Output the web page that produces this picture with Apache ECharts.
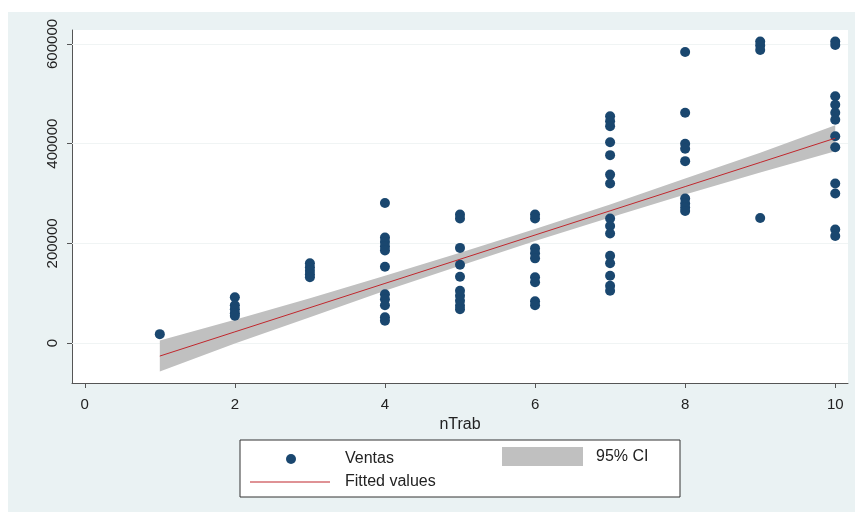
<!DOCTYPE html>
<html>
<head>
<meta charset="utf-8">
<script src="https://cdn.jsdelivr.net/npm/echarts@6/dist/echarts.min.js"></script>
<style>
html, body { margin: 0; padding: 0; background: #fff; }
#chart { width: 859px; height: 516px; }
</style>
</head>
<body>
<div id="chart"></div>
<script>
// nTrab (x) and the Ventas values seen at each nTrab
var nTrab = [1, 2, 3, 4, 5, 6, 7, 8, 9, 10];
var ventas = [
	[18000],
	[92000, 76000, 68000, 60000, 55000],
	[160000, 152000, 145000, 138000, 132000],
	[281000, 212000, 203000, 194000, 186000, 153000, 98000, 88000, 76000, 52000, 45000],
	[258000, 250000, 191000, 157000, 133000, 105000, 95000, 85000, 75000, 68000],
	[258000, 250000, 190000, 180000, 170000, 132000, 122000, 84000, 76000],
	[455000, 445000, 435000, 403000, 377000, 338000, 320000, 250000, 235000, 220000, 175000, 160000, 135000, 115000, 105000],
	[584000, 462000, 400000, 390000, 365000, 290000, 280000, 272000, 265000],
	[605000, 597000, 588000, 251000],
	[605000, 598000, 495000, 478000, 462000, 448000, 415000, 393000, 320000, 300000, 228000, 215000]
];
// fitted line and 95% CI
var fitted = [-26000, 22600, 71100, 119700, 168200, 216800, 265300, 313900, 362400, 411000];
var ciLower = [-57000, -1000, 52000, 105000, 155000, 205000, 252000, 298000, 342000, 385000];
var ciUpper = [5000, 47000, 90000, 135000, 181000, 229000, 278000, 330000, 382000, 437000];

var xTicks = [0, 2, 4, 6, 8, 10];
var yTicks = [0, 200000, 400000, 600000];

var pts = [];
ventas.forEach(function(list, i) {
	list.forEach(function(v) {
		pts.push([nTrab[i], v]);
	});
});
var fitData = nTrab.map(function(x, i) { return [x, fitted[i]]; });
var bandData = nTrab.map(function(x, i) { return [x, ciLower[i], ciUpper[i]]; });

var font = 'Liberation Sans';
var txt = { fontFamily: font, fontSize: 16, color: '#222' };
var chart = echarts.init(document.getElementById('chart'));

function plain(v) { return String(v); }

chart.setOption({
	animation: false,
	graphic: [{
		type: 'rect',
		z: -10,
		shape: { x: 8, y: 12, width: 847, height: 500 },
		style: { fill: '#eaf2f3' }
	}, {
		type: 'rect',
		z: 5,
		shape: { x: 240, y: 440, width: 440, height: 57 },
		style: { fill: '#fff', stroke: '#333', lineWidth: 1 }
	}],
	grid: {
		left: 72,
		top: 30,
		width: 776,
		height: 353,
		show: true,
		backgroundColor: '#fff',
		borderWidth: 0
	},
	legend: [{
		z: 10,
		padding: 0,
		left: 286,
		top: 451,
		itemWidth: 80,
		itemHeight: 10,
		data: ['Ventas'],
		textStyle: Object.assign({ padding: [0, 0, 0, 9] }, txt)
	}, {
		z: 10,
		padding: 0,
		left: 250,
		top: 474,
		itemWidth: 80,
		itemHeight: 1,
		data: [{ name: 'Fitted values', icon: 'rect' }],
		textStyle: Object.assign({ padding: [0, 0, 0, 10] }, txt)
	}, {
		z: 10,
		padding: 0,
		left: 502,
		top: 447,
		itemWidth: 81,
		itemHeight: 19,
		data: [{ name: '95% CI', icon: 'rect' }],
		textStyle: Object.assign({ padding: [0, 0, 0, 8] }, txt)
	}],
	xAxis: {
		type: 'value',
		min: -0.17,
		max: 10.17,
		name: 'nTrab',
		nameLocation: 'middle',
		nameGap: 29,
		nameTextStyle: txt,
		axisLine: { show: true, onZero: false, lineStyle: { color: '#555', width: 1 } },
		axisTick: { show: true, length: 5, customValues: xTicks, lineStyle: { color: '#555' } },
		axisLabel: { customValues: xTicks, formatter: plain, margin: 14, fontFamily: font, fontSize: 15, color: '#222' },
		splitLine: { show: false }
	},
	yAxis: {
		type: 'value',
		min: -80000,
		max: 628000,
		axisLine: { show: true, onZero: false, lineStyle: { color: '#555', width: 1 } },
		axisTick: { show: true, length: 5, customValues: yTicks, lineStyle: { color: '#555' } },
		axisLabel: { customValues: yTicks, formatter: plain, rotate: 90, margin: 12, fontFamily: font, fontSize: 15, color: '#222' },
		splitLine: { show: false }
	},
	series: [{
		name: 'Ventas',
		type: 'scatter',
		symbol: 'circle',
		symbolSize: 10,
		z: 3,
		itemStyle: { color: '#1a476f', opacity: 1 },
		data: pts,
		markLine: {
			silent: true,
			symbol: 'none',
			label: { show: false },
			lineStyle: { color: '#f0f4f4', type: 'solid', width: 1 },
			data: yTicks.map(function(v) { return { yAxis: v }; }),
			z: 1
		}
	}, {
		name: '95% CI',
		type: 'custom',
		color: '#c0c0c0',
		itemStyle: { color: '#c0c0c0' },
		z: 2,
		data: bandData,
		renderItem: function(params, api) {
			if (params.dataIndex !== 0) return;
			var top = bandData.map(function(d) { return api.coord([d[0], d[2]]); });
			var bot = bandData.map(function(d) { return api.coord([d[0], d[1]]); }).reverse();
			return {
				type: 'polygon',
				shape: { points: top.concat(bot) },
				style: { fill: '#c0c0c0' }
			};
		}
	}, {
		name: 'Fitted values',
		type: 'line',
		symbol: 'none',
		color: '#c0272d',
		lineStyle: { color: '#c0272d', width: 1 },
		data: fitData,
		z: 4
	}]
});
</script>
</body>
</html>
